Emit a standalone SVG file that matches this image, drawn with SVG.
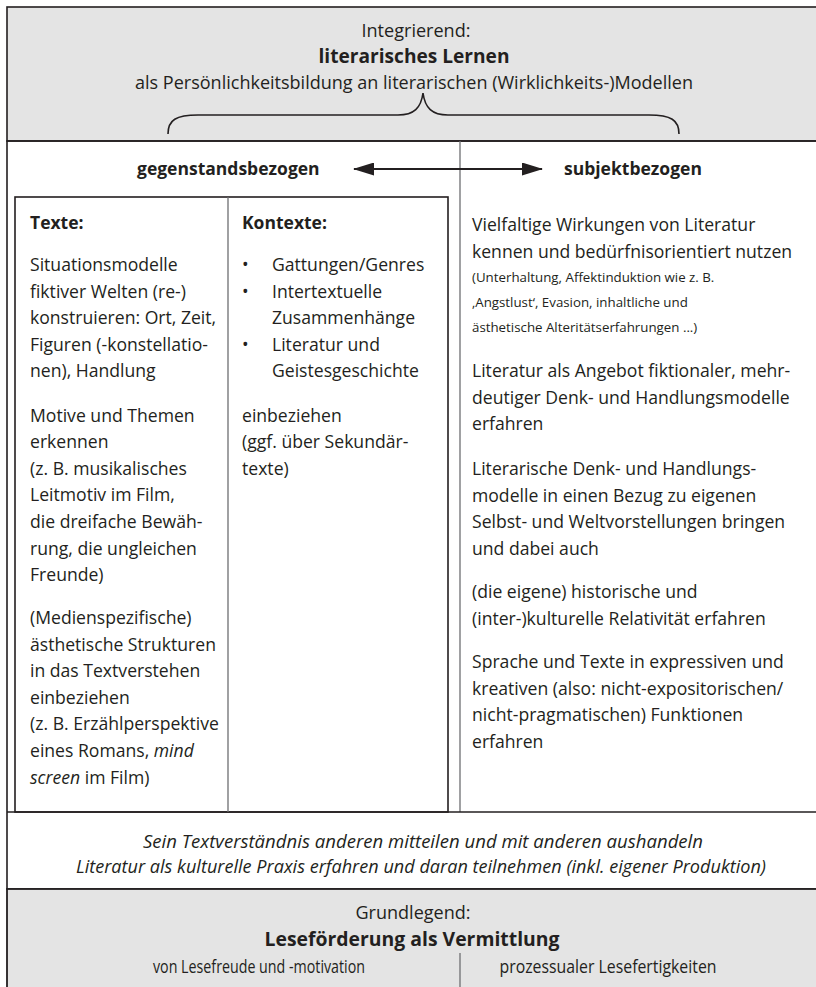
<svg xmlns="http://www.w3.org/2000/svg" width="816" height="987" viewBox="0 0 816 987">
<defs>
<style>
text{font-family:"Open Sans","Noto Sans","Liberation Sans",sans-serif;fill:#231f20;}
.b{font-size:17.6px;}
.s{font-size:13.3px;}
.bd{font-weight:bold;font-size:17.5px;}
.c{font-size:17.5px;text-anchor:middle;}
.cb{font-size:19px;font-weight:bold;text-anchor:middle;}
.it{font-style:italic;font-size:17.5px;text-anchor:middle;}
.frame{fill:none;stroke:#231f20;stroke-width:1.6;}
.thin{fill:none;stroke:#6d6e71;stroke-width:1.3;}
</style>
<marker id="ah" viewBox="0 0 21 13" refX="20" refY="6.5" markerWidth="21" markerHeight="13" markerUnits="userSpaceOnUse" orient="auto-start-reverse">
<path d="M0,0 L21,6.5 L0,13 Z" fill="#231f20"/>
</marker>
</defs>
<rect x="0" y="0" width="816" height="987" fill="#ffffff"/>

<g id="top-band">
<rect x="7" y="7" width="830" height="134" fill="#e4e4e4" stroke="#231f20" stroke-width="1.6"/>
<text class="c" x="416" y="37" textLength="109" lengthAdjust="spacingAndGlyphs">Integrierend:</text>
<text class="cb" x="414" y="63" textLength="191" lengthAdjust="spacingAndGlyphs">literarisches Lernen</text>
<text class="c" x="414" y="89" textLength="558" lengthAdjust="spacingAndGlyphs">als Persönlichkeitsbildung an literarischen (Wirklichkeits-)Modellen</text>
<path d="M168,134 C168,120 176,115 198,115 L398,115 C414,115 421,108 423,93 C425,108 432,115 448,115 L649,115 C671,115 679,120 679,134" fill="none" stroke="#231f20" stroke-width="1.6"/>
</g>

<g id="middle-frame">
<rect x="7" y="141" width="830" height="748" fill="none" stroke="#231f20" stroke-width="1.6"/>
<line class="thin" x1="460" y1="141" x2="460" y2="812"/>
<line class="frame" x1="7" y1="812" x2="830" y2="812"/>
</g>

<g id="headers">
<text class="bd" x="137" y="175">gegenstandsbezogen</text>
<text class="bd" x="564" y="175">subjektbezogen</text>
</g>

<g id="connectors">
<line x1="354" y1="169" x2="542" y2="169" stroke="#231f20" stroke-width="1.8" marker-start="url(#ah)" marker-end="url(#ah)"/>
</g>

<g id="left-box">
<rect x="15" y="197" width="433" height="615" fill="none" stroke="#231f20" stroke-width="1.6"/>
<line class="thin" x1="228" y1="197" x2="228" y2="812"/>
</g>

<g id="texte">
<text class="bd" x="30" y="229">Texte:</text>
<text class="b" x="30" y="271">Situationsmodelle</text>
<text class="b" x="30" y="297.6">fiktiver Welten (re-)</text>
<text class="b" x="30" y="324.2">konstruieren: Ort, Zeit,</text>
<text class="b" x="30" y="350.8">Figuren (-konstellatio-</text>
<text class="b" x="30" y="377.4">nen), Handlung</text>
<text class="b" x="30" y="421.5">Motive und Themen</text>
<text class="b" x="30" y="448.1">erkennen</text>
<text class="b" x="30" y="474.7">(z. B. musikalisches</text>
<text class="b" x="30" y="501.3">Leitmotiv im Film,</text>
<text class="b" x="30" y="527.9">die dreifache Bewäh-</text>
<text class="b" x="30" y="554.5">rung, die ungleichen</text>
<text class="b" x="30" y="581.1">Freunde)</text>
<text class="b" x="30" y="624">(Medienspezifische)</text>
<text class="b" x="30" y="650.6">ästhetische Strukturen</text>
<text class="b" x="30" y="677.2">in das Textverstehen</text>
<text class="b" x="30" y="703.8">einbeziehen</text>
<text class="b" x="30" y="730.4">(z. B. Erzählperspektive</text>
<text class="b" x="30" y="757">eines Romans, <tspan font-style="italic">mind</tspan></text>
<text class="b" x="30" y="783.6"><tspan font-style="italic">screen</tspan> im Film)</text>
</g>

<g id="kontexte">
<text class="bd" x="242" y="229">Kontexte:</text>
<text class="b" x="242" y="271">•</text>
<text class="b" x="272" y="271">Gattungen/Genres</text>
<text class="b" x="242" y="297.6">•</text>
<text class="b" x="272" y="297.6">Intertextuelle</text>
<text class="b" x="272" y="324.2">Zusammenhänge</text>
<text class="b" x="242" y="350.8">•</text>
<text class="b" x="272" y="350.8">Literatur und</text>
<text class="b" x="272" y="377.4">Geistesgeschichte</text>
<text class="b" x="242" y="421.5">einbeziehen</text>
<text class="b" x="242" y="448.1">(ggf. über Sekundär-</text>
<text class="b" x="242" y="474.7">texte)</text>
</g>

<g id="subjekt">
<text class="b" x="472" y="231">Vielfaltige Wirkungen von Literatur</text>
<text class="b" x="472" y="257.6">kennen und bedürfnisorientiert nutzen</text>
<text class="s" x="472" y="282">(Unterhaltung, Affektinduktion wie z. B.</text>
<text class="s" x="472" y="307">‚Angstlust‘, Evasion, inhaltliche und</text>
<text class="s" x="472" y="332">ästhetische Alteritätserfahrungen ...)</text>
<text class="b" x="472" y="377">Literatur als Angebot fiktionaler, mehr-</text>
<text class="b" x="472" y="403.6">deutiger Denk- und Handlungsmodelle</text>
<text class="b" x="472" y="430.2">erfahren</text>
<text class="b" x="472" y="475">Literarische Denk- und Handlungs-</text>
<text class="b" x="472" y="501.6">modelle in einen Bezug zu eigenen</text>
<text class="b" x="472" y="528.2">Selbst- und Weltvorstellungen bringen</text>
<text class="b" x="472" y="554.8">und dabei auch</text>
<text class="b" x="472" y="598">(die eigene) historische und</text>
<text class="b" x="472" y="624.6">(inter-)kulturelle Relativität erfahren</text>
<text class="b" x="472" y="668">Sprache und Texte in expressiven und</text>
<text class="b" x="472" y="694.6">kreativen (also: nicht-expositorischen/</text>
<text class="b" x="472" y="721.2">nicht-pragmatischen) Funktionen</text>
<text class="b" x="472" y="747.8">erfahren</text>
</g>

<g id="practice-band">
<text class="it" x="423" y="848" textLength="560" lengthAdjust="spacingAndGlyphs">Sein Textverständnis anderen mitteilen und mit anderen aushandeln</text>
<text class="it" x="421" y="873" textLength="690" lengthAdjust="spacingAndGlyphs">Literatur als kulturelle Praxis erfahren und daran teilnehmen (inkl. eigener Produktion)</text>
</g>

<g id="bottom-band">
<rect x="7" y="889" width="830" height="120" fill="#e4e4e4" stroke="#231f20" stroke-width="1.8"/>
<text class="c" x="413" y="919" textLength="115" lengthAdjust="spacingAndGlyphs">Grundlegend:</text>
<text class="cb" x="412" y="946" textLength="295" lengthAdjust="spacingAndGlyphs">Leseförderung als Vermittlung</text>
<text class="c" x="259" y="973" textLength="212" lengthAdjust="spacingAndGlyphs">von Lesefreude und -motivation</text>
<text class="c" x="608" y="973" textLength="217" lengthAdjust="spacingAndGlyphs">prozessualer Lesefertigkeiten</text>
<line class="thin" x1="460" y1="953" x2="460" y2="987"/>
</g>
</svg>
